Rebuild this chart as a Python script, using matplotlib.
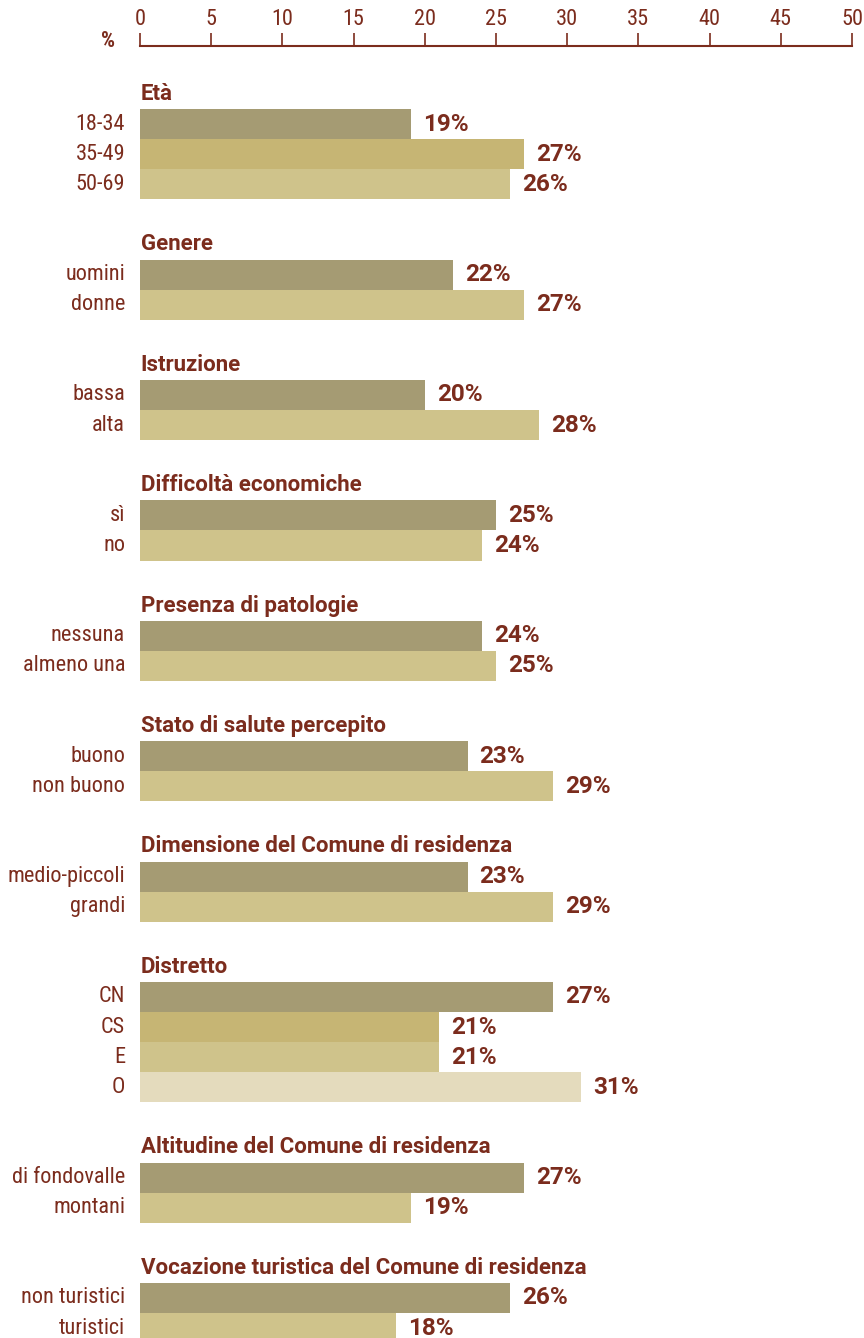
import matplotlib.pyplot as plt

# Groups, category labels and values (percent)
groups = [
    "Età", "Genere", "Istruzione", "Difficoltà economiche", "Presenza di patologie",
    "Stato di salute percepito", "Dimensione del Comune di residenza", "Distretto",
    "Altitudine del Comune di residenza", "Vocazione turistica del Comune di residenza",
]
categories = [
    ["18-34", "35-49", "50-69"],
    ["uomini", "donne"],
    ["bassa", "alta"],
    ["sì", "no"],
    ["nessuna", "almeno una"],
    ["buono", "non buono"],
    ["medio-piccoli", "grandi"],
    ["CN", "CS", "E", "O"],
    ["di fondovalle", "montani"],
    ["non turistici", "turistici"],
]
# bar lengths as drawn
values = [
    [19, 27, 26],
    [22, 27],
    [20, 28],
    [25, 24],
    [24, 25],
    [23, 29],
    [23, 29],
    [29, 21, 21, 31],
    [27, 19],
    [26, 18],
]
# printed labels
labels = [
    [19, 27, 26],
    [22, 27],
    [20, 28],
    [25, 24],
    [24, 25],
    [23, 29],
    [23, 29],
    [27, 21, 21, 31],
    [27, 19],
    [26, 18],
]

red = "#7b2c1d"
palette = {
    2: ["#a59b73", "#cfc38b"],
    3: ["#a59b73", "#c6b574", "#cfc38b"],
    4: ["#a59b73", "#c6b574", "#cfc38b", "#e4dbbd"],
}
narrow = ["Roboto Condensed", "Archivo Narrow", "DejaVu Sans"]
bold_fam = ["Roboto", "Liberation Sans", "DejaVu Sans"]

fig = plt.figure(figsize=(8.64, 13.38), dpi=100)
top_px = 46
ax = fig.add_axes([140 / 864, 0, 712 / 864, 1 - top_px / 1338])

row = 0
for g, cats, vals, labs in zip(groups, categories, values, labels):
    cols = palette[len(cats)]
    ax.text(0.05, row - 0.5, g, fontsize=16, fontweight="bold", color=red,
            family=bold_fam, ha="left", va="center")
    for i, (c, v, lab) in enumerate(zip(cats, vals, labs)):
        y = row + i + 0.5
        ax.barh(y, v, height=1.0, color=cols[i], edgecolor="none")
        ax.text(v + 0.85, y, f"{lab}%", fontsize=17.5, fontweight="bold",
                color=red, family=bold_fam, ha="left", va="center")
        ax.text(-1.05, y, c, fontsize=16, color=red, family=narrow,
                ha="right", va="center")
    row += len(cats) + 2

ax.set_xlim(0, 50)
ax.set_ylim(40.83, -2.093)
ax.set_yticks([])
ax.xaxis.tick_top()
ax.set_xticks(range(0, 51, 5))
ax.tick_params(axis="x", direction="out", length=9.4, width=1.2, color=red,
               labelcolor=red, labelsize=16, pad=2)
for t in ax.get_xticklabels():
    t.set_family(narrow)
for s in ["bottom", "left", "right"]:
    ax.spines[s].set_visible(False)
ax.spines["top"].set_color(red)
ax.spines["top"].set_linewidth(1.5)

fig.text(108 / 864, 1 - 41 / 1338, "%", fontsize=16, fontweight="bold", color=red,
         family=narrow, ha="center", va="center")

fig.savefig("out.png", dpi=100)
